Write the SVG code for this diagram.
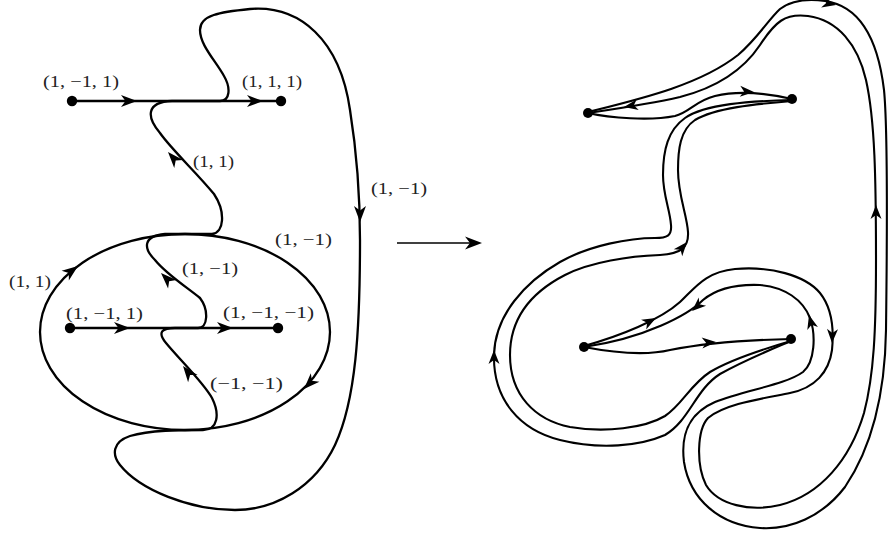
<svg xmlns="http://www.w3.org/2000/svg" xmlns:xlink="http://www.w3.org/1999/xlink" width="888" height="533" viewBox="0 0 888 533">
<style>
.ln{fill:none;stroke:#000;stroke-width:2.3;stroke-linejoin:round;stroke-linecap:round}
.rl{fill:none;stroke:#000;stroke-width:2.1;stroke-linejoin:round;stroke-linecap:round}
.dot{fill:#000}
.ah{fill:#000}
.lb{font-family:"Liberation Serif","DejaVu Serif",serif;font-size:16px;fill:#222}
</style>
<defs>
<path id="ahL" d="M0,0 L-16,-6 L-11.5,0 L-16,6 Z"/>
<path id="ahR" d="M0,0 L-14,-5.5 L-10,0 L-14,5.5 Z"/>
</defs>
<rect width="888" height="533" fill="#fff"/>

<!-- LEFT FIGURE -->
<g id="left-connectors">
<line class="ln" x1="72" y1="101" x2="281" y2="101"/>
<line class="ln" x1="70" y1="328" x2="278" y2="328"/>
<ellipse class="ln" cx="185" cy="332" rx="145" ry="98"/>
<path class="ln" d="M 172,101 L 220,101 C 230,101 231,88 224,76 C 215,60 200,45 200,30 C 200,15 220,12 250,9 C 300,5 340,40 350,110 C 358,160 360,200 360,240 C 360,330 356,400 335,445 C 315,487 275,510 235,510 C 190,510 140,490 120,465 C 112,455 112,442 130,436 C 150,430 180,430 203,430 C 218,430 220,414 212,398 C 203,382 180,360 166,343 C 157,332 162,328 175,328 L 198,328 C 208,328 209,310 200,298 C 188,288 166,274 155,260 C 143,248 143,236 165,234 L 212,234 C 224,233 226,212 214,194 C 196,172 172,150 160,133 C 147,118 145,102 172,101 Z"/>
<g class="ah">
<use xlink:href="#ahL" transform="translate(137,101)"/>
<use xlink:href="#ahL" transform="translate(263,101)"/>
<use xlink:href="#ahL" transform="translate(130,328)"/>
<use xlink:href="#ahL" transform="translate(233,328)"/>
<use xlink:href="#ahL" transform="translate(168,152) rotate(-132)"/>
<use xlink:href="#ahL" transform="translate(161,273) rotate(-135)"/>
<use xlink:href="#ahL" transform="translate(183,366) rotate(-128)"/>
<use xlink:href="#ahL" transform="translate(360,222) rotate(90)"/>
<use xlink:href="#ahL" transform="translate(78,266) rotate(-37)"/>
<use xlink:href="#ahL" transform="translate(304,389) rotate(134)"/>
</g>
</g>
<g id="node-L1"><circle class="dot" cx="72" cy="101" r="5.2"/><text class="lb" x="43" y="87" textLength="76" lengthAdjust="spacingAndGlyphs">(1, −1, 1)</text></g>
<g id="node-L2"><circle class="dot" cx="281" cy="101" r="5.2"/><text class="lb" x="242" y="87" textLength="60" lengthAdjust="spacingAndGlyphs">(1, 1, 1)</text></g>
<g id="node-L3"><circle class="dot" cx="70" cy="328" r="5.2"/><text class="lb" x="66" y="319" textLength="77" lengthAdjust="spacingAndGlyphs">(1, −1, 1)</text></g>
<g id="node-L4"><circle class="dot" cx="278" cy="328" r="5.2"/><text class="lb" x="223" y="318" textLength="91" lengthAdjust="spacingAndGlyphs">(1, −1, −1)</text></g>
<g id="left-labels">
<text class="lb" x="193" y="167" textLength="41" lengthAdjust="spacingAndGlyphs">(1, 1)</text>
<text class="lb" x="371" y="194" textLength="56" lengthAdjust="spacingAndGlyphs">(1, −1)</text>
<text class="lb" x="275" y="245" textLength="57" lengthAdjust="spacingAndGlyphs">(1, −1)</text>
<text class="lb" x="9" y="287" textLength="42" lengthAdjust="spacingAndGlyphs">(1, 1)</text>
<text class="lb" x="182" y="274" textLength="56" lengthAdjust="spacingAndGlyphs">(1, −1)</text>
<text class="lb" x="210" y="389" textLength="73" lengthAdjust="spacingAndGlyphs">(−1, −1)</text>
</g>

<!-- MIDDLE ARROW -->
<g id="map-arrow">
<line x1="397" y1="243" x2="472" y2="243" stroke="#000" stroke-width="1.6"/>
<path d="M482,243 L465,236.5 L470,243 L465,249.5 Z" fill="#000"/>
</g>

<!-- RIGHT FIGURE -->
<g id="right-connectors">
<path class="rl" d="M 588,112 C 640,99 700,85 738,55 C 758,38 768,20 780,9 C 792,0 810,-1 825,1 C 860,6 878,40 884,90 C 888,130 887,250 886,330 C 885,400 870,450 845,487 C 822,517 790,530 760,528 C 720,525 690,500 684,462 C 680,430 692,412 715,402 C 745,390 785,385 803,372 C 815,362 816,335 810,318 C 803,300 785,287 760,285 C 735,284 715,290 703,300 C 688,315 645,338 584,347"/>
<path class="rl" d="M 584,346 C 620,336 660,320 680,302 C 695,288 705,272 735,269 C 770,266 805,275 820,293 C 832,308 834,330 832,350 C 829,372 815,388 790,393 C 760,399 725,404 708,418 C 697,430 696,465 706,485 C 718,505 750,512 780,505 C 820,495 850,460 864,413 C 874,375 876,330 876,260 C 876,180 875,120 866,80 C 858,45 838,20 808,16 C 785,13 775,22 760,45 C 742,72 715,88 680,97 C 650,104 615,109 588,113"/>
<path class="rl" d="M 588,113 C 610,118 650,121 675,116 C 690,112 695,101 715,96 C 740,90 770,94 792,99"/>
<path class="rl" d="M 792,100 C 750,101 705,104 685,118 C 668,130 663,150 663,175 C 663,195 670,210 671,225 C 672,236 667,238 655,238 C 630,238 590,245 560,262 C 525,282 495,315 494,355 C 493,400 520,430 560,440 C 600,450 640,446 665,435 C 690,420 695,390 720,374 C 745,360 770,350 791,341"/>
<path class="rl" d="M 792,101 C 755,104 715,108 695,120 C 680,130 678,150 678,170 C 678,195 687,215 688,232 C 689,248 680,254 660,255 C 630,256 590,262 565,275 C 530,293 510,320 510,355 C 510,395 535,420 570,427 C 605,433 645,428 665,416 C 682,405 690,385 710,372 C 730,360 760,350 791,341"/>
<path class="rl" d="M 584,347 C 610,352 645,356 670,350 C 700,344 740,340 791,339"/>
<g class="ah">
<use xlink:href="#ahR" transform="translate(836,5) rotate(12)"/>
<use xlink:href="#ahR" transform="translate(624,107) rotate(170)"/>
<use xlink:href="#ahR" transform="translate(754,92) rotate(3)"/>
<use xlink:href="#ahR" transform="translate(876,205) rotate(-90)"/>
<use xlink:href="#ahR" transform="translate(687,242) rotate(-50)"/>
<use xlink:href="#ahR" transform="translate(494,350) rotate(-90)"/>
<use xlink:href="#ahR" transform="translate(656,318) rotate(-28)"/>
<use xlink:href="#ahR" transform="translate(832,343) rotate(92)"/>
<use xlink:href="#ahR" transform="translate(809,315) rotate(-105)"/>
<use xlink:href="#ahR" transform="translate(692,311) rotate(138)"/>
<use xlink:href="#ahR" transform="translate(716,342) rotate(-4)"/>
</g>
</g>
<g id="node-R1"><circle class="dot" cx="588" cy="113" r="5"/></g>
<g id="node-R2"><circle class="dot" cx="792" cy="99" r="5"/></g>
<g id="node-R3"><circle class="dot" cx="584" cy="347" r="5"/></g>
<g id="node-R4"><circle class="dot" cx="791" cy="339" r="5"/></g>
</svg>
